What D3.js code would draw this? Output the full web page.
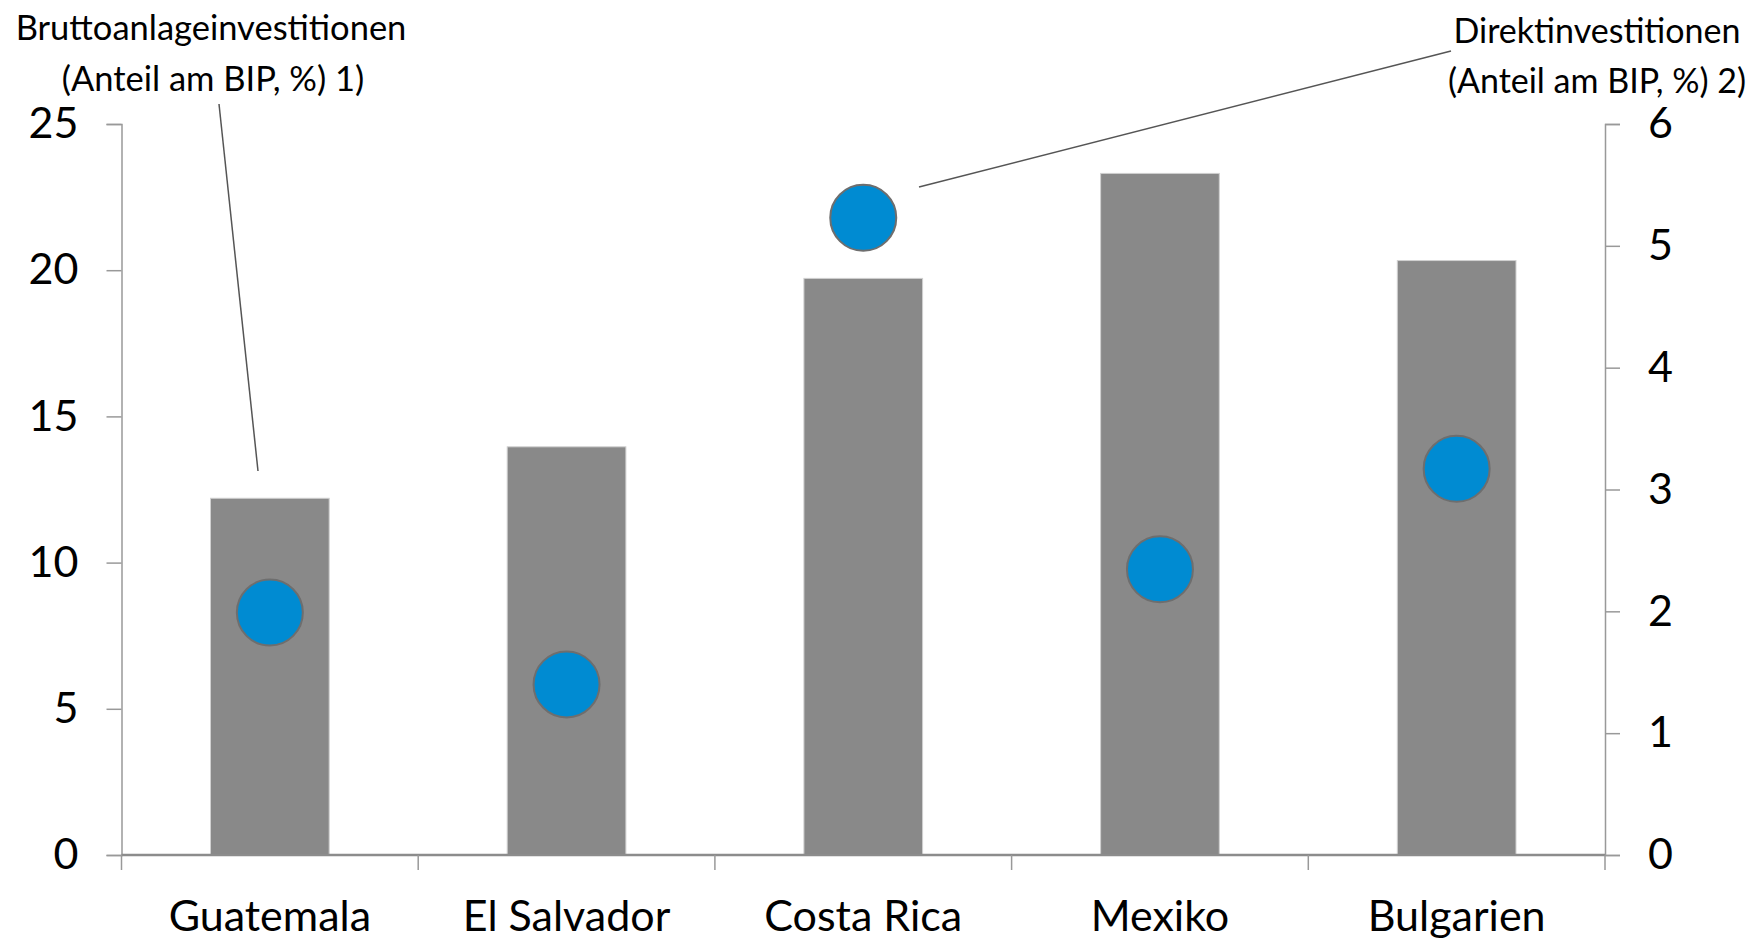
<!DOCTYPE html>
<html>
<head>
<meta charset="utf-8">
<script src="https://cdn.jsdelivr.net/npm/d3@7"></script>
<style>
  body { margin: 0; background: #fff; }
  svg text { font-family: Lato, "Open Sans", sans-serif; fill: #000; }
</style>
</head>
<body>
<svg id="chart" width="1764" height="939"></svg>
<script>
// Data
const categories = ['Guatemala', 'El Salvador', 'Costa Rica', 'Mexiko', 'Bulgarien'];
const grossInvestment = [12.2, 13.96, 19.72, 23.31, 20.33];   // left axis
const directInvestment = [1.99, 1.40, 5.23, 2.345, 3.17];      // right axis
const leftTicks = [0, 5, 10, 15, 20, 25];
const rightTicks = [0, 1, 2, 3, 4, 5, 6];

const svg = d3.select('#chart');
const margin = { left: 121.5, right: 1764 - 1605, top: 124, bottom: 939 - 855 };
const width = 1764 - margin.left - margin.right;
const height = 939 - margin.top - margin.bottom;

const g = svg.append('g').attr('transform', `translate(${margin.left},${margin.top})`);

const x = d3.scaleBand().domain(categories).range([0, width]).paddingInner(0.6).paddingOuter(0.3);
const yLeft = d3.scaleLinear().domain([0, 25]).range([height, 0]);
const yRight = d3.scaleLinear().domain([0, 6]).range([height, 0]);

// Bars
g.selectAll('rect.bar')
  .data(categories)
  .enter()
  .append('rect')
  .attr('class', 'bar')
  .attr('x', d => x(d))
  .attr('width', x.bandwidth())
  .attr('y', (d, i) => yLeft(grossInvestment[i]))
  .attr('height', (d, i) => height - yLeft(grossInvestment[i]))
  .attr('fill', '#898989')
  .attr('stroke', '#d0d0d0')
  .attr('stroke-width', 1);

// Axes
const axisColor = '#999';
const leftAxis = g.append('g')
  .call(d3.axisLeft(yLeft).tickValues(leftTicks).tickFormat(d3.format('d')).tickSize(15).tickPadding(28));
const rightAxis = g.append('g')
  .attr('transform', `translate(${width},0)`)
  .call(d3.axisRight(yRight).tickValues(rightTicks).tickFormat(d3.format('d')).tickSize(15).tickPadding(28));

// x axis with ticks at band boundaries
const step = x.step();
const xAxis = g.append('g').attr('transform', `translate(0,${height})`);
xAxis.append('line')
  .attr('x1', 0).attr('x2', width)
  .attr('stroke', '#8c8c8c').attr('stroke-width', 2.5);
xAxis.selectAll('line.tick')
  .data(d3.range(categories.length + 1))
  .enter()
  .append('line')
  .attr('class', 'tick')
  .attr('x1', i => i * step).attr('x2', i => i * step)
  .attr('y1', 0).attr('y2', 15)
  .attr('stroke', axisColor).attr('stroke-width', 1.5);
xAxis.selectAll('text')
  .data(categories)
  .enter()
  .append('text')
  .attr('x', d => x(d) + x.bandwidth() / 2)
  .attr('y', 76)
  .attr('text-anchor', 'middle')
  .attr('font-size', 43)
  .text(d => d);

[leftAxis, rightAxis].forEach(ax => {
  ax.select('.domain').attr('stroke', axisColor).attr('stroke-width', 1.5);
  ax.selectAll('.tick line').attr('stroke', axisColor).attr('stroke-width', 1.5);
  ax.selectAll('.tick text').attr('font-size', 43).attr('fill', '#000')
    .style('font-family', 'Lato, "Open Sans", sans-serif');
});

// Dots
g.selectAll('circle.dot')
  .data(categories)
  .enter()
  .append('circle')
  .attr('class', 'dot')
  .attr('cx', d => x(d) + x.bandwidth() / 2)
  .attr('cy', (d, i) => yRight(directInvestment[i]))
  .attr('r', 33)
  .attr('fill', '#008bd2')
  .attr('stroke', '#6e6e6e')
  .attr('stroke-width', 2);

// Annotations
svg.append('line')
  .attr('x1', 219).attr('y1', 104).attr('x2', 258).attr('y2', 471)
  .attr('stroke', '#555').attr('stroke-width', 1.5);
svg.append('line')
  .attr('x1', 1451).attr('y1', 51).attr('x2', 919).attr('y2', 187)
  .attr('stroke', '#555').attr('stroke-width', 1.5);

const leftLabel = svg.append('text').attr('text-anchor', 'middle').attr('font-size', 34.5);
leftLabel.append('tspan').attr('x', 211).attr('y', 40).text('Bruttoanlageinvestitionen');
leftLabel.append('tspan').attr('x', 213).attr('y', 91).text('(Anteil am BIP, %) 1)');

const rightLabel = svg.append('text').attr('text-anchor', 'middle').attr('font-size', 34);
rightLabel.append('tspan').attr('x', 1597).attr('y', 43).text('Direktinvestitionen');
rightLabel.append('tspan').attr('x', 1597).attr('y', 93).text('(Anteil am BIP, %) 2)');
</script>
</body>
</html>
